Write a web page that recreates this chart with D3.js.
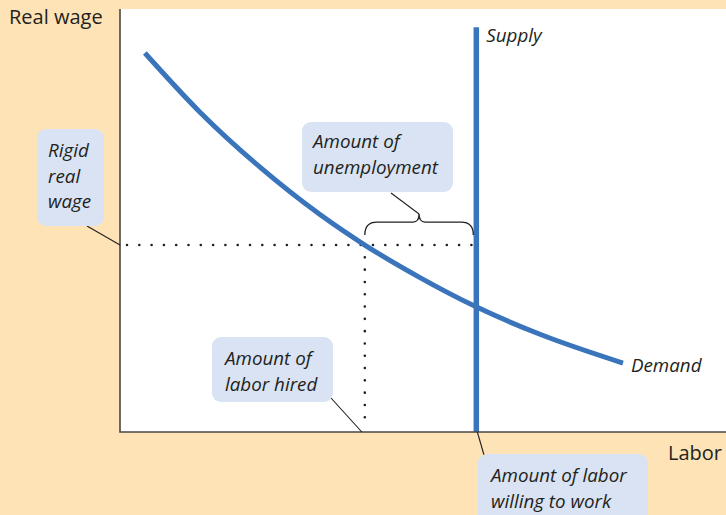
<!DOCTYPE html>
<html lang="en">
<head>
<meta charset="UTF-8">
<title>Rigid real wage and unemployment</title>
<script src="https://cdn.jsdelivr.net/npm/d3@7"></script>
<style>
  body{ margin:0; background:#fde3b6; }
  svg{ display:block; font-family:'Open Sans', sans-serif; }
  .lbl{ font-size:18.8px; font-style:italic; fill:#231f20; }
  .axlbl{ font-size:20px; font-weight:500; fill:#231f20; }
</style>
</head>
<body>
<svg id="chart" width="726" height="515"></svg>
<script>
/* global d3 */
// demand curve (labor, real wage)
let demandLabor = [4.1, 13.2, 23.1, 33.0, 40.4, 49.5, 58.6, 69.3, 83.0]
let demandWage  = [89.6, 75.6, 62.6, 51.4, 44.2, 36.5, 29.7, 23.1, 16.3]
let supplyLabor = 58.8
let supplyTop = 95.7
let rigidWage = 44.2
let laborHired = 40.4

let svg = d3.select("#chart")
let x = d3.scaleLinear().domain([0,100]).range([120,726])
let y = d3.scaleLinear().domain([0,100]).range([432,9])

// plot area
svg.append("rect")
  .attr("x", x(0)).attr("y", y(100))
  .attr("width", x(100)-x(0)).attr("height", y(0)-y(100))
  .attr("fill", "white")

let ink = "#231f20"
let blue = "#3a74bb"

// dotted guides
let dots = {stroke: ink, "stroke-width": 2.6, "stroke-linecap": "round", "stroke-dasharray": "0 12.3"}
let hLine = svg.append("line")
  .attr("x1", x(0)+7).attr("x2", x(supplyLabor)-4)
  .attr("y1", y(rigidWage)).attr("y2", y(rigidWage))
let vLine = svg.append("line")
  .attr("x1", x(laborHired)).attr("x2", x(laborHired))
  .attr("y1", y(rigidWage)+12.3).attr("y2", y(0)-14)
for (let k in dots){ hLine.attr(k, dots[k]); vLine.attr(k, dots[k]) }

// demand
let pts = demandLabor.map((d,i) => [d, demandWage[i]])
svg.append("path")
  .datum(pts)
  .attr("d", d3.line().x(d=>x(d[0])).y(d=>y(d[1])).curve(d3.curveMonotoneX))
  .attr("fill","none").attr("stroke", blue).attr("stroke-width", 5)

// supply
svg.append("line")
  .attr("x1", x(supplyLabor)).attr("x2", x(supplyLabor))
  .attr("y1", y(supplyTop)).attr("y2", y(0))
  .attr("stroke", blue).attr("stroke-width", 5.5)

// axes
svg.append("path")
  .attr("d", `M${x(0)},${y(100)}V${y(0)}H${x(100)}`)
  .attr("fill","none").attr("stroke","#4a4546").attr("stroke-width",1.6)

svg.append("text").attr("class","axlbl").attr("x",9).attr("y",24).text("Real wage")
svg.append("text").attr("class","axlbl").attr("x",668).attr("y",460).text("Labor")
svg.append("text").attr("class","lbl").attr("x",x(supplyLabor)+10).attr("y",42).text("Supply")
svg.append("text").attr("class","lbl").attr("x",x(83)+8).attr("y",y(16.3)+9).text("Demand")

// brace over unemployment
let bx0 = x(laborHired), bx1 = x(supplyLabor)-3, by = y(rigidWage)-10
let bm = (bx0+bx1)/2
svg.append("path")
  .attr("d", `M${bx0},${by} Q${bx0},${by-13} ${bx0+12},${by-13} L${bm-6},${by-13} Q${bm},${by-13} ${bm},${by-21}`
    + ` Q${bm},${by-13} ${bm+6},${by-13} L${bx1-12},${by-13} Q${bx1},${by-13} ${bx1},${by}`)
  .attr("fill","none").attr("stroke",ink).attr("stroke-width",1.3)

// callouts
let callouts = [
  {lines:["Rigid","real","wage"], box:[37,129,67,97], tx:48, ty:157, lead:[[87,226],[x(0),y(rigidWage)]]},
  {lines:["Amount of","unemployment"], box:[302,122,151,70], tx:313, ty:148, lead:[[391,193],[bm,by-21]]},
  {lines:["Amount of","labor hired"], box:[212,337,121,65], tx:225, ty:365, lead:[[331,398],[x(laborHired)-3,y(0)]]},
  {lines:["Amount of labor","willing to work"], box:[478,454,170,80], tx:491, ty:482, lead:[[x(supplyLabor)+1,y(0)],[484,455]]}
]
callouts.forEach(c => {
  svg.append("line")
    .attr("x1",c.lead[0][0]).attr("y1",c.lead[0][1])
    .attr("x2",c.lead[1][0]).attr("y2",c.lead[1][1])
    .attr("stroke",ink).attr("stroke-width",1.1)
  svg.append("rect")
    .attr("x",c.box[0]).attr("y",c.box[1]).attr("width",c.box[2]).attr("height",c.box[3])
    .attr("rx",9).attr("fill","#d9e3f3")
  c.lines.forEach((t,i) => {
    svg.append("text").attr("class","lbl").attr("x",c.tx).attr("y",c.ty+i*25.5).text(t)
  })
})
</script>
</body>
</html>
